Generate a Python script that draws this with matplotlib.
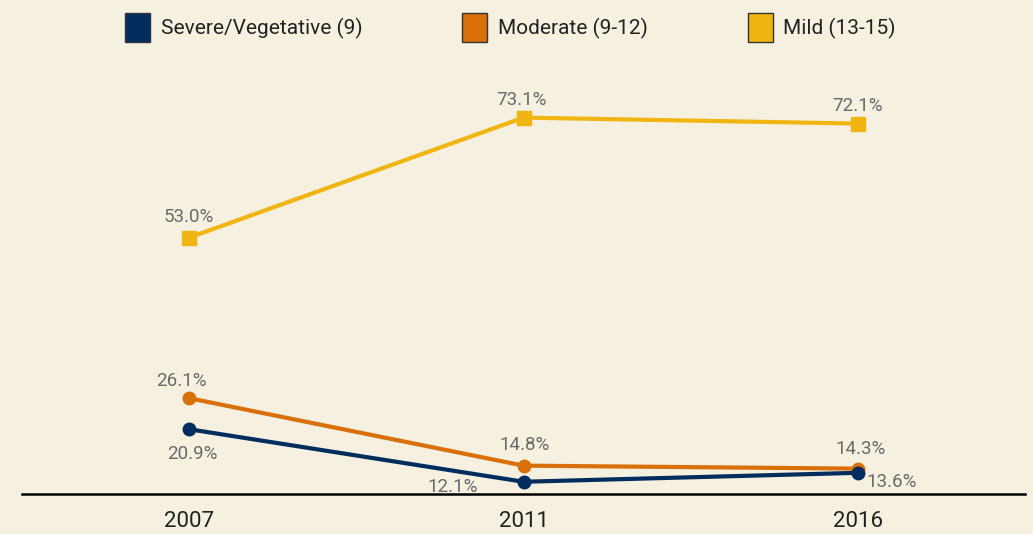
import matplotlib.pyplot as plt
from matplotlib import font_manager

years = ["2007", "2011", "2016"]
severe = [20.9, 12.1, 13.6]
moderate = [26.1, 14.8, 14.3]
mild = [53.0, 73.1, 72.1]
names = ["Severe/Vegetative (9)", "Moderate (9-12)", "Mild (13-15)"]

navy = "#002c5e"
orange = "#d9700b"
gold = "#f0b510"
bg = "#f5f0df"
gray = "#6a6a6a"

names_avail = {f.name for f in font_manager.fontManager.ttflist}
fam = ["Liberation Sans Narrow", "DejaVu Sans"] if "Liberation Sans Narrow" in names_avail else ["Roboto", "DejaVu Sans"]
plt.rcParams["font.family"] = fam

fig = plt.figure(figsize=(10.33, 5.34), dpi=100, facecolor=bg)
ax = fig.add_axes([22 / 1033, 40 / 534, 1003 / 1033, 494 / 534])
ax.set_facecolor(bg)

x = range(len(years))
ax.plot(x, severe, color=navy, lw=3, marker="o", ms=9, label=names[0], zorder=3)
ax.plot(x, moderate, color=orange, lw=3, marker="o", ms=9, label=names[1], zorder=2)
ax.plot(x, mild, color=gold, lw=3, marker="s", ms=9.5, label=names[2], zorder=2)

ax.set_xlim(-0.5, 2.5)
ax.set_ylim(10.05, 92.8)

# value labels: (series, index, dx, dy, ha) in pixels
offsets = [
    (mild, 0, 0, 21, "center"), (mild, 1, -2, 18, "center"), (mild, 2, 0, 18, "center"),
    (moderate, 0, -8, 17, "center"), (moderate, 1, 1, 21, "center"), (moderate, 2, 3, 20, "center"),
    (severe, 0, 3, -25, "center"), (severe, 1, -46, -5, "right"), (severe, 2, 9, -9, "left"),
]
for s, i, dx, dy, ha in offsets:
    ax.annotate(f"{s[i]:.1f}%", (i, s[i]), xytext=(dx, dy), textcoords="offset pixels",
                ha=ha, va="center", fontsize=13.5, color=gray)

for side in ["left", "right", "top"]:
    ax.spines[side].set_visible(False)
ax.spines["bottom"].set_linewidth(1.8)
ax.spines["bottom"].set_color("black")
ax.set_yticks([])
ax.set_xticks(list(x))
ax.set_xticklabels(years, fontsize=16, color="#222222")
ax.tick_params(axis="x", length=0, pad=12)

handles = [plt.Rectangle((0, 0), 1, 1, facecolor=c, edgecolor="#333333", lw=1) for c in (navy, orange, gold)]
fig.legend(handles, names, loc="upper center", bbox_to_anchor=(0.494, 1.01), ncol=3, frameon=False,
           fontsize=15, handlelength=1.2, handleheight=1.7, columnspacing=4.8, handletextpad=0.5,
           labelcolor="#222222")

fig.savefig("out.png", dpi=100, facecolor=bg)
